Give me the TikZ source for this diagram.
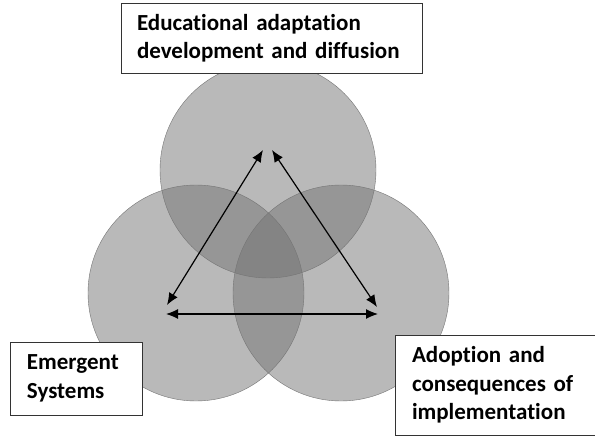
\documentclass[tikz,border=0pt]{standalone}
\usepackage{fontspec}
\setmainfont{Carlito}[Ligatures=NoCommon]
\usetikzlibrary{arrows.meta}
\tikzset{
    ring/.style={draw=black!55, fill=black!55, fill opacity=0.5, circle, minimum size=216pt, inner sep=0pt},
    label box/.style={draw=black!80, fill=white, thick, align=left, font=\bfseries\fontsize{23}{28.5}\selectfont, inner sep=0pt},
    link/.style={line width=1.2pt, {Latex[length=12pt,width=10pt]}-{Latex[length=12pt,width=10pt]}}
}
\begin{document}
\begin{tikzpicture}[x=1pt,y=-1pt]
        \useasboundingbox (0,0) rectangle (595,436);

        \node[ring] (top)   at (268, 170) {};
        \node[ring] (left)  at (196, 293) {};
        \node[ring] (right) at (341, 293) {};

        \coordinate (tA) at (263, 150);
        \coordinate (tB) at (272, 150);
        \coordinate (lA) at (167, 305);
        \coordinate (rA) at (377, 307);
        \coordinate (lB) at (166, 314);
        \coordinate (rB) at (378, 314);

        \draw[link] (lA) -- (tA);
        \draw[link] (tB) -- (rA);
        \draw[link] (lB) -- (rB);

        \node[label box, minimum width=301pt, minimum height=70pt, text width=269pt] (edu) at (271.5, 38)
            {Educational adaptation\\development and diffusion};
        \node[label box, minimum width=132pt, minimum height=73pt, text width=98pt] (emerg) at (76, 378.5)
            {Emergent\\Systems};
        \node[label box, minimum width=210pt, minimum height=100pt, text width=176pt] (adopt) at (500, 385)
            {Adoption and\\consequences of\\implementation};
    \end{tikzpicture}
\end{document}
